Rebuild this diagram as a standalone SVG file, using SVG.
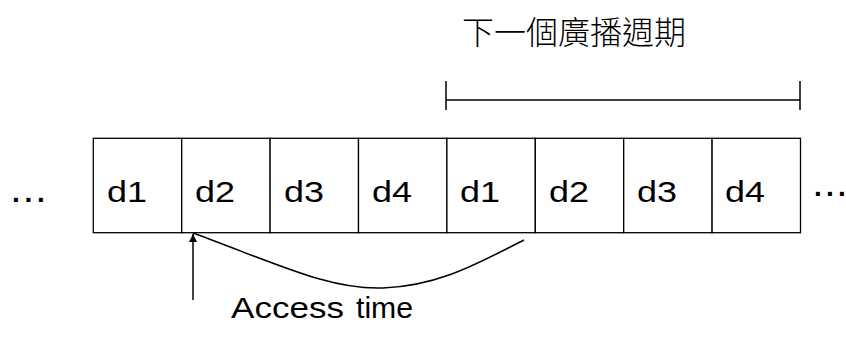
<svg xmlns="http://www.w3.org/2000/svg" width="846" height="338" viewBox="0 0 846 338">
  <style>
    .cell { fill: #fff; stroke: #000; stroke-width: 1.3; }
    .lbl { font-family: "Liberation Sans", Arial, sans-serif; font-size: 29px; fill: #000; }
    .dots { font-family: "Liberation Sans", Arial, sans-serif; font-size: 28px; font-weight: bold; fill: #000; }
    .cjk { font-family: "Noto Sans CJK TC", "Noto Sans CJK SC", sans-serif; font-size: 32px; font-weight: 300; fill: #000; }
    .line { fill: none; stroke: #000; stroke-width: 1.5; }
  </style>
  <defs>
    <marker id="arrowhead" viewBox="0 0 10 10" refX="10" refY="5" markerWidth="8" markerHeight="8" markerUnits="userSpaceOnUse" orient="auto">
      <path d="M0,0 L10,5 L0,10 Z" fill="#000"/>
    </marker>
  </defs>
  <rect width="846" height="338" fill="#fff"/>

  <!-- broadcast sequence cells -->
  <g id="cell-1"><rect class="cell" x="93.3" y="138.3" width="88.4" height="94.4"/><text class="lbl" x="107" y="202" textLength="40" lengthAdjust="spacingAndGlyphs">d1</text></g>
  <g id="cell-2"><rect class="cell" x="181.7" y="138.3" width="88.4" height="94.4"/><text class="lbl" x="195" y="202" textLength="40" lengthAdjust="spacingAndGlyphs">d2</text></g>
  <g id="cell-3"><rect class="cell" x="270.1" y="138.3" width="88.4" height="94.4"/><text class="lbl" x="284" y="202" textLength="40" lengthAdjust="spacingAndGlyphs">d3</text></g>
  <g id="cell-4"><rect class="cell" x="358.5" y="138.3" width="88.4" height="94.4"/><text class="lbl" x="372" y="202" textLength="40" lengthAdjust="spacingAndGlyphs">d4</text></g>
  <g id="cell-5"><rect class="cell" x="446.9" y="138.3" width="88.4" height="94.4"/><text class="lbl" x="460" y="202" textLength="40" lengthAdjust="spacingAndGlyphs">d1</text></g>
  <g id="cell-6"><rect class="cell" x="535.3" y="138.3" width="88.4" height="94.4"/><text class="lbl" x="549" y="202" textLength="40" lengthAdjust="spacingAndGlyphs">d2</text></g>
  <g id="cell-7"><rect class="cell" x="623.7" y="138.3" width="88.4" height="94.4"/><text class="lbl" x="637" y="202" textLength="40" lengthAdjust="spacingAndGlyphs">d3</text></g>
  <g id="cell-8"><rect class="cell" x="712.1" y="138.3" width="88.4" height="94.4"/><text class="lbl" x="725" y="202" textLength="40" lengthAdjust="spacingAndGlyphs">d4</text></g>

  <!-- continuation marks -->
  <g id="dots-left"><text class="dots" x="12 24.5 37" y="202">...</text></g>
  <g id="dots-right"><text class="dots" x="814 826 838" y="196">...</text></g>

  <!-- next broadcast cycle bracket -->
  <g id="cycle">
    <text class="cjk" x="462" y="44">下一個廣播週期</text>
    <path class="line" d="M446,81 V110 M446,100 H800 M800,81 V110"/>
  </g>

  <!-- access time label -->
  <g id="access-time">
    <text class="lbl" x="231" y="318" textLength="113" lengthAdjust="spacingAndGlyphs">Access</text>
    <text class="lbl" x="356" y="318" textLength="57" lengthAdjust="spacingAndGlyphs">time</text>
  </g>

  <!-- connectors -->
  <g id="connectors">
    <path class="line" d="M193,300 V234" marker-end="url(#arrowhead)"/>
    <path class="line" d="M193,233 C280,265 330,290 383,288 C440,286 480,262 524,240"/>
  </g>
</svg>
